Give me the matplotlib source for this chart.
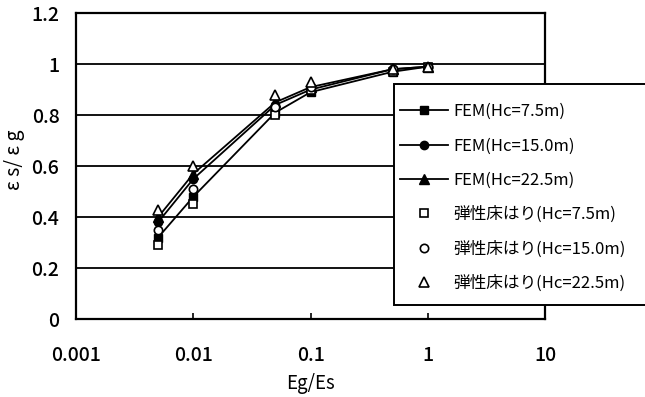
import matplotlib
matplotlib.use("Agg")
import matplotlib.pyplot as plt
from matplotlib.patches import Rectangle

plt.rcParams['font.family'] = ['Noto Sans CJK JP', 'DejaVu Sans']

# Stiffness ratio Eg/Es
ratio = [0.005, 0.01, 0.05, 0.1, 0.5, 1.0]

# FEM results
fem_75 = [0.32, 0.48, 0.81, 0.89, 0.97, 0.99]
fem_150 = [0.38, 0.55, 0.84, 0.90, 0.98, 0.99]
fem_225 = [0.40, 0.57, 0.85, 0.91, 0.98, 0.99]

# Elastic foundation beam results
beam_75 = [0.29, 0.45, 0.80, 0.90, 0.97, 0.99]
beam_150 = [0.35, 0.51, 0.83, 0.91, 0.98, 0.99]
beam_225 = [0.43, 0.60, 0.88, 0.93, 0.98, 0.99]

labels = ["FEM(Hc=7.5m)", "FEM(Hc=15.0m)", "FEM(Hc=22.5m)",
          "弾性床はり(Hc=7.5m)", "弾性床はり(Hc=15.0m)", "弾性床はり(Hc=22.5m)"]

x_ticks = [0.001, 0.01, 0.1, 1, 10]
x_tick_labels = ["0.001", "0.01", "0.1", "1", "10"]
y_ticks = [0, 0.2, 0.4, 0.6, 0.8, 1.0, 1.2]
y_tick_labels = ["0", "0.2", "0.4", "0.6", "0.8", "1", "1.2"]

fig = plt.figure(figsize=(6.45, 3.97), dpi=100)
ax = fig.add_axes([0.118, 0.196, 0.727, 0.771])

ax.set_xscale('log')
ax.set_xlim(0.001, 10)
ax.set_ylim(0, 1.2)

for v in y_ticks[1:-1]:
    ax.axhline(v, color='black', lw=1.3, zorder=1)

handles = []
h, = ax.plot(ratio, fem_75, '-s', color='black', mfc='black', ms=6, lw=1.3, label=labels[0], zorder=3)
handles.append(h)
h, = ax.plot(ratio, fem_150, '-o', color='black', mfc='black', ms=6, lw=1.3, label=labels[1], zorder=3)
handles.append(h)
h, = ax.plot(ratio, fem_225, '-^', color='black', mfc='black', ms=7, lw=1.3, label=labels[2], zorder=3)
handles.append(h)
h, = ax.plot(ratio, beam_75, 's', color='black', mfc='white', ms=6, mew=1.2, label=labels[3], zorder=4)
handles.append(h)
h, = ax.plot(ratio, beam_150, 'o', color='black', mfc='white', ms=6, mew=1.2, label=labels[4], zorder=4)
handles.append(h)
h, = ax.plot(ratio, beam_225, '^', color='black', mfc='white', ms=7, mew=1.2, label=labels[5], zorder=4)
handles.append(h)

ax.set_xticks(x_ticks)
ax.set_xticklabels(x_tick_labels)
ax.minorticks_off()
ax.set_yticks(y_ticks)
ax.set_yticklabels(y_tick_labels)
ax.tick_params(axis='x', direction='in', length=4, width=1.2, labelsize=14, pad=19)
ax.tick_params(axis='y', direction='in', length=0, labelsize=14, pad=12)
for t in ax.get_xticklabels() + ax.get_yticklabels():
    t.set_fontweight('medium')

for s in ax.spines.values():
    s.set_linewidth(1.6)
    s.set_color('black')

ax.set_xlabel("Eg/Es", fontsize=13.5, labelpad=6)
ax.set_ylabel("ε s/ ε g", fontsize=14)
ax.yaxis.set_label_coords(-0.11, 0.52)

# Legend box reaching past the right edge of the figure
frame = Rectangle((394 / 645, 1 - 305 / 397), 0.5, (305 - 84) / 397,
                  transform=fig.transFigure, facecolor='white', edgecolor='black',
                  lw=1.4, zorder=5)
fig.add_artist(frame)

leg = fig.legend(handles=handles, loc='upper left', bbox_to_anchor=(400 / 645, 1 - 103 / 397),
                 prop={'size': 12}, frameon=False,
                 handlelength=2.9, handletextpad=0.3, labelspacing=1.04,
                 borderpad=0, borderaxespad=0)
leg.set_zorder(6)

fig.savefig("out.png", dpi=100)
